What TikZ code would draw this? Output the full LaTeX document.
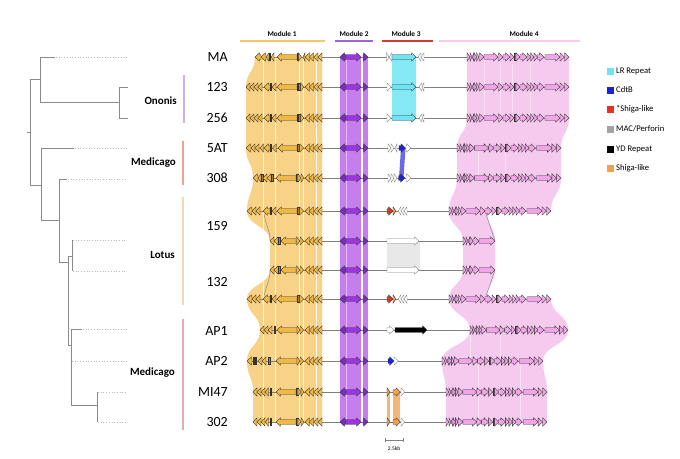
\documentclass[tikz,border=0pt]{standalone}
\usepackage{fontspec}
\setmainfont{Carlito}
\definecolor{yband}{HTML}{F7D287}
\definecolor{ygene}{HTML}{F1B944}
\definecolor{ydark}{HTML}{8C7A3E}
\definecolor{pband}{HTML}{C67EEE}
\definecolor{pgene}{HTML}{9B35E3}
\definecolor{pdark}{HTML}{7B2CC0}
\definecolor{cyanc}{HTML}{6EE4F3}
\definecolor{bluec}{HTML}{1F1FE0}
\definecolor{blueband}{HTML}{6A6AE6}
\definecolor{redc}{HTML}{E8321E}
\definecolor{greyc}{HTML}{A3A3A3}
\definecolor{orangec}{HTML}{F0A24A}
\definecolor{oband}{HTML}{F2B57A}
\definecolor{pkband}{HTML}{F6C9EE}
\definecolor{pkgene}{HTML}{F0A6E6}
\definecolor{mA}{HTML}{F4C76C}
\definecolor{mB}{HTML}{A066D8}
\definecolor{mC}{HTML}{D23A36}
\definecolor{mD}{HTML}{F6CDEE}
\definecolor{treec}{HTML}{8A8A8A}
\definecolor{cOn}{HTML}{C9AEF2}
\definecolor{cMe}{HTML}{E9A390}
\definecolor{cLo}{HTML}{F8D5B5}
\definecolor{cMeb}{HTML}{E9AAAA}
\definecolor{trackc}{HTML}{7F7F7F}
\definecolor{greyband}{HTML}{E8E8E8}
\tikzset{
  gene/.style={draw=black!80, line width=0.35pt, line join=miter},
  treeline/.style={draw=treec, line width=0.8pt},
  dots/.style={draw=gray!55, dotted, line width=0.7pt},
  track/.style={draw=trackc, line width=0.6pt},
  strain/.style={anchor=east, font=\fontsize{14}{14}\selectfont, inner sep=0pt},
  clade/.style={anchor=east, font=\fontsize{11}{11}\selectfont\bfseries, inner sep=0pt},
  legtext/.style={anchor=west, font=\fontsize{8.6}{9}\selectfont, inner sep=0pt},
  legsq/.style={minimum size=7pt, inner sep=0pt, draw=none},
  modlab/.style={font=\fontsize{7.3}{7.3}\selectfont\bfseries, inner sep=0pt},
  cladebar/.style={line width=1.3pt}
}
% genes: x1 x2 y fill
\newcommand{\gR}[4]{%
  \pgfmathsetmacro\hx{max(#1,#2-4.5)}%
  \filldraw[gene,fill=#4] (#1,#3-2.3) -- (\hx,#3-2.3) -- (\hx,#3-4.2) -- (#2,#3) -- (\hx,#3+4.2) -- (\hx,#3+2.3) -- (#1,#3+2.3) -- cycle;}
\newcommand{\gL}[4]{%
  \pgfmathsetmacro\hx{min(#2,#1+4.5)}%
  \filldraw[gene,fill=#4] (#2,#3-2.3) -- (\hx,#3-2.3) -- (\hx,#3-4.2) -- (#1,#3) -- (\hx,#3+4.2) -- (\hx,#3+2.3) -- (#2,#3+2.3) -- cycle;}
\newcommand{\gK}[4]{%
  \filldraw[gene,fill=#4!70!black] (#1,#3-3.6) rectangle (#2,#3+3.6);}
\newcommand{\mone}[2]{%
  \foreach \xA/\xB/\dr in {#2, 305/309.5/L, 309.5/313.5/L, 313.5/318/L, 318/322/L}{%
    \csname g\dr\endcsname{\xA}{\xB}{#1}{ygene}}}
\newcommand{\mtwo}[1]{%
  \gL{340}{346}{#1}{pdark}\gR{346}{361}{#1}{pgene}\gR{363}{368}{#1}{pdark}}
\newcommand{\mfour}[3]{%
  \pgfmathsetmacro\mysc{(#3-#2)/102}%
  \foreach \xA/\xB/\dr in {0/3/R, 3/5/R, 5/7/L, 7/9.5/R, 9.5/12/R, 12/17/R, 17/31/R, 31/36/R, 36/43/R, 43/47/R, 47.5/49/K, 49/53/R, 53/60/R, 60/63.5/R, 63.5/67/R, 67/70.5/R, 70.5/77/R, 78/93/R, 93/97.5/R, 97.5/102/R}{%
    \pgfmathsetmacro\pa{#2+\xA*\mysc}\pgfmathsetmacro\pb{#2+\xB*\mysc}%
    \csname g\dr\endcsname{\pa}{\pb}{#1}{pkgene}}}
\newcommand{\mfourS}[2]{%
  \foreach \xA/\xB/\dr in {0/3/R, 3/5/R, 5/7/L, 7/10/R, 10/16/R, 16/32/R}{%
    \pgfmathsetmacro\pa{#2+\xA}\pgfmathsetmacro\pb{#2+\xB}%
    \csname g\dr\endcsname{\pa}{\pb}{#1}{pkgene}}}
\begin{document}
\begin{tikzpicture}[x=1pt,y=-1pt]
\fill[white] (0,0) rectangle (680,458);
\useasboundingbox (0,0) rectangle (680,458);

% ---------------- tree ----------------
\draw[treeline] (27,132) -- (30,132);
\draw[treeline] (30,79) -- (30,185);
\draw[treeline] (30,79) -- (40,79);
\draw[treeline] (40,57) -- (40,102);
\draw[treeline] (40,57) -- (55,57);
\draw[dots] (56,57) -- (127,57);
\draw[treeline] (40,102) -- (119,102);
\draw[treeline] (119,87) -- (119,118);
\draw[treeline] (119,87) -- (128,87);
\draw[treeline] (119,118) -- (128,118);
\draw[treeline] (30,185) -- (41,185);
\draw[treeline] (41,148) -- (41,220);
\draw[treeline] (41,148) -- (74,148);
\draw[dots] (75,148) -- (127,148);
\draw[treeline] (41,220) -- (59,220);
\draw[treeline] (59,179) -- (59,262);
\draw[treeline] (59,179) -- (67,179);
\draw[dots] (68,179) -- (127,179);
\draw[treeline] (59,262) -- (68,262);
\draw[treeline] (68,256) -- (68,345);
\draw[treeline] (68,256) -- (72,256);
\draw[treeline] (72,240) -- (72,271);
\draw[dots] (73,240) -- (127,240);
\draw[dots] (73,271) -- (127,271);
\draw[treeline] (68,345) -- (71,345);
\draw[treeline] (71,329) -- (71,405);
\draw[treeline] (71,329) -- (82,329);
\draw[dots] (83,329) -- (127,329);
\draw[dots] (72,361) -- (127,361);
\draw[treeline] (71,405) -- (97,405);
\draw[treeline] (97,392) -- (97,422);
\draw[dots] (98,392) -- (127,392);
\draw[dots] (98,422) -- (127,422);

% clade labels and bars
\node[clade] (cOnonis) at (177,101) {Ononis};
\node[clade] (cMed1) at (176,163) {Medicago};
\node[clade] (cLotus) at (175,255) {Lotus};
\node[clade] (cMed2) at (175,373) {Medicago};
\draw[cladebar, draw=cOn] (184,75) -- (184,123);
\draw[cladebar, draw=cMe] (183,141) -- (183,185);
\draw[cladebar, draw=cLo] (183,197) -- (183,305);
\draw[cladebar, draw=cMeb] (183,319) -- (183,430);

% strain labels
\node[strain] (sMA) at (228,57) {MA};
\node[strain] (s123) at (228,87) {123};
\node[strain] (s256) at (228,118) {256};
\node[strain] (s5AT) at (228,148) {5AT};
\node[strain] (s308) at (228,178) {308};
\node[strain] (s159) at (228,226) {159};
\node[strain] (s132) at (228,282) {132};
\node[strain] (sAP1) at (228,331) {AP1};
\node[strain] (sAP2) at (228,361) {AP2};
\node[strain] (sMI47) at (228,392) {MI47};
\node[strain] (s302) at (228,422) {302};

% module bars
\draw[mA, line width=2.3pt] (240,41) -- (325,41);
\draw[mB, line width=2.3pt] (335,41) -- (373,41);
\draw[mC, line width=2.3pt] (382,41) -- (433,41);
\draw[mD, line width=2.3pt] (439,41) -- (580,41);
\node[modlab] (lm1) at (282,34) {Module 1};
\node[modlab] (lm2) at (354,34) {Module 2};
\node[modlab] (lm3) at (406,34) {Module 3};
\node[modlab] (lm4) at (524,34) {Module 4};

% ---------------- bands ----------------
\foreach \la/\ya/\lb/\yb in {255/57/246/87, 246/87/246/118, 246/118/246/148, 246/148/253/178, 253/178/247/211, 247/211/270/241, 270/241/270/270, 270/270/247/299, 247/299/260/330, 260/330/247/361, 247/361/253/392, 253/392/253/422}{%
  \fill[yband] (\la,\ya) .. controls (\la,{(\ya+\yb)/2}) and (\lb,{(\ya+\yb)/2}) .. (\lb,\yb) -- (322,\yb) -- (322,\ya) -- cycle;}
\foreach \xs in {263.5,275.5,299,303.5,316}{\draw[white, opacity=0.85, line width=0.8pt] (\xs,57) -- (\xs,422);}
\draw[gray, line width=0.4pt] (264,214) .. controls (266,226) and (270,230) .. (270,241);
\draw[gray, line width=0.4pt] (270,270) .. controls (270,281) and (266,286) .. (264,296);

\fill[pband] (340,57) rectangle (368,422);
\draw[white, line width=1.4pt] (362,57) -- (362,422);
\draw[white, opacity=0.45, line width=0.8pt] (346.5,57) -- (346.5,422);

\fill[cyanc!85!white] (392,57) rectangle (416,118);
\fill[blueband] (401,148) -- (405.5,148) -- (403.5,178) -- (399,178) -- cycle;
\fill[greyband] (387,241) rectangle (420,270);
\fill[oband] (387,392) rectangle (390,422);
\fill[oband] (393,392) rectangle (400,422);

\foreach \la/\ra/\ya/\lb/\rb/\yb in {467/569/57/467/569/87, 467/569/87/467/569/118, 467/569/118/457/561/148, 457/561/148/457/561/178, 457/561/178/449/551/211, 449/487/211/463/495/241, 463/495/241/463/495/270, 463/495/270/449/487/299, 449/551/299/470/568/330, 470/568/330/442/543/361, 442/543/361/446/547/392, 446/547/392/446/547/422}{%
  \fill[pkband] (\la,\ya) .. controls (\la,{(\ya+\yb)/2}) and (\lb,{(\ya+\yb)/2}) .. (\lb,\yb) -- (\rb,\yb) .. controls (\rb,{(\ya+\yb)/2}) and (\ra,{(\ya+\yb)/2}) .. (\ra,\ya) -- cycle;}
\draw[gray, line width=0.4pt] (486,214) -- (495,241);
\draw[gray, line width=0.4pt] (495,270) -- (486,296);
\foreach \xs/\ya/\yb in {484/60/115, 500/62/113, 512/64/112, 530/60/115, 478/150/176, 505/152/175, 470/335/358, 500/335/358, 478/365/418, 520/365/418}{\draw[white, opacity=0.45, line width=0.7pt] (\xs,\ya) -- (\xs,\yb);}

% ---------------- tracks ----------------
\foreach \xs/\xe/\yy in {255/569/57, 246/569/87, 246/569/118, 246/561/148, 253/561/178, 247/551/211, 270/495/241, 270/495/270, 247/551/299, 260/568/330, 247/543/361, 253/547/392, 253/547/422}{\draw[track] (\xs,\yy) -- (\xe,\yy);}

% ---------------- module 1 ----------------
\mone{57}{255/261/L, 261/266/L, 266/269/L, 269/270.5/K, 271/274/L, 277/297/L, 297/298.5/K, 298.5/301.5/R, 303/305/L}
\mone{87}{246/250/L, 250/254/L, 254/258/L, 258/262/L, 264/270/L, 270/271.5/K, 272/276/L, 277/297/L, 297/298.5/K, 298.5/300/K, 300.5/304/R}
\mone{118}{246/250/L, 250/254/L, 254/258/L, 258/262/L, 264/270/L, 270/271.5/K, 272/276/L, 277/297/L, 297/298.5/K, 298.5/300/K, 300.5/304/R}
\mone{148}{246/251/L, 251/255/L, 255/259/L, 260/263.5/L, 264/270/L, 270/271.5/K, 272.5/276.5/L, 278/297/L, 297/299/K, 299.5/303.5/R}
\mone{178}{253/258/L, 258/261/L, 261.5/263/K, 263/267/L, 267/271/L, 271.5/273/K, 276/296/L, 296/298/K, 298/301/R, 301/304/R}
\mone{211}{247/252/L, 252/256/L, 256/260/L, 263/270/L, 270/271.5/K, 272/276/L, 277/297/L, 297/299/K, 299.5/303.5/R}
\mone{241}{270/274/L, 274/278/L, 278.5/280/K, 281/296/L, 296.5/300/R, 300/303.5/R}
\mone{270}{270/274/L, 274/278/L, 278.5/280/K, 281/296/L, 296.5/300/R, 300/303.5/R}
\mone{299}{247/252/L, 252/256/L, 256/260/L, 263/270/L, 270/271.5/K, 272/276/L, 277/297/L, 297/299/K, 299.5/303.5/R}
\mone{330}{260/264/L, 264/268/L, 268/272/L, 274/275.5/K, 277/297/L, 297/300/R, 300/303.5/R}
\mone{361}{247/252/L, 253/254.5/K, 255/256.5/K, 258/262/L, 262/266/L, 268.5/270/K, 276/297/L, 297/300/R, 300/303.5/R}
\mone{392}{253/257/L, 257/261/L, 261/265/L, 265/268.5/L, 270/271.5/K, 276/296/L, 296/298/K, 298/301/R, 301/304/R}
\mone{422}{253/257/L, 257/261/L, 261/265/L, 265/268.5/L, 270/271.5/K, 276/296/L, 296/298/K, 298/301/R, 301/304/R}

% ---------------- module 2 ----------------
\foreach \yy in {57,87,118,148,178,211,241,270,299,330,361,392,422}{\mtwo{\yy}}

% ---------------- module 3 ----------------
\gR{386.5}{389}{57}{white,draw=gray}\gL{389}{392}{57}{white,draw=gray}
\gR{392}{416}{57}{cyanc}\gL{418}{421}{57}{white,draw=gray}\gL{421}{424}{57}{white,draw=gray}
\foreach \yy in {87,118}{%
  \gR{387}{391}{\yy}{white,draw=gray}\gR{392}{416}{\yy}{cyanc}\gL{419}{422}{\yy}{white,draw=gray}\gL{422}{424}{\yy}{white,draw=gray}}
\gR{388}{391}{148}{white,draw=gray}\gR{391}{394}{148}{white,draw=gray}\gL{395}{397}{148}{white,draw=gray}
\gR{399}{405.5}{148}{bluec}\gR{406}{411}{148}{white,draw=gray}
\gR{388}{391}{178}{white,draw=gray}\gR{391}{394}{178}{white,draw=gray}\gR{394}{397}{178}{white,draw=gray}
\gR{398.5}{405}{178}{bluec}\gR{406}{411}{178}{white,draw=gray}
\foreach \yy in {211,299}{%
  \gR{387}{393}{\yy}{redc}\gR{393}{396}{\yy}{orangec}\gL{398}{401}{\yy}{white,draw=gray}\gL{401}{404}{\yy}{white,draw=gray}\gL{404}{407}{\yy}{white,draw=gray}}
\foreach \yy in {241,270}{\gR{387}{419}{\yy}{white,draw=gray}}
\gR{387}{394}{330}{white,draw=gray}\gR{395}{427}{330}{black}
\gR{388}{394}{361}{bluec}\gR{394}{398.5}{361}{white,draw=gray}
\foreach \yy in {392,422}{%
  \gR{387}{390}{\yy}{orangec}\gR{393}{400.5}{\yy}{orangec}\gR{401}{404.5}{\yy}{white,draw=gray}}

% ---------------- module 4 ----------------
\mfour{57}{467}{569}
\mfour{87}{467}{569}
\mfour{118}{467}{569}
\mfour{148}{457}{561}
\mfour{178}{457}{561}
\mfour{211}{449}{551}
\mfourS{241}{463}
\mfourS{270}{463}
\mfour{299}{449}{551}
\mfour{330}{470}{568}
\mfour{361}{442}{543}
\mfour{392}{446}{547}
\mfour{422}{446}{547}

% ---------------- scale bar ----------------
\coordinate (sbA) at (385,440);
\coordinate (sbB) at (403,440);
\draw[gray, line width=0.6pt] (sbA) -- (sbB);
\draw[gray, line width=0.6pt] ([yshift=-2pt]sbA) -- ([yshift=2pt]sbA);
\draw[gray, line width=0.6pt] ([yshift=-2pt]sbB) -- ([yshift=2pt]sbB);
\node[font=\fontsize{5.5}{5.5}\selectfont, inner sep=0pt] (sbl) at (394,449) {2.5kb};

% ---------------- legend ----------------
\node[legsq, fill=cyanc] (q1) at (610.5,71) {};
\node[legsq, fill=bluec] (q2) at (610.5,90) {};
\node[legsq, fill=redc] (q3) at (610.5,109) {};
\node[legsq, fill=greyc] (q4) at (610.5,129) {};
\node[legsq, fill=black] (q5) at (610.5,149) {};
\node[legsq, fill=orangec] (q6) at (610.5,168) {};
\node[legtext] (t1) at (616,71) {LR Repeat};
\node[legtext] (t2) at (616,90) {CdtB};
\node[legtext] (t3) at (616,109) {*Shiga-like};
\node[legtext] (t4) at (616,129) {MAC/Perforin};
\node[legtext] (t5) at (616,149) {YD Repeat};
\node[legtext] (t6) at (616,168) {Shiga-like};
\end{tikzpicture}
\end{document}
